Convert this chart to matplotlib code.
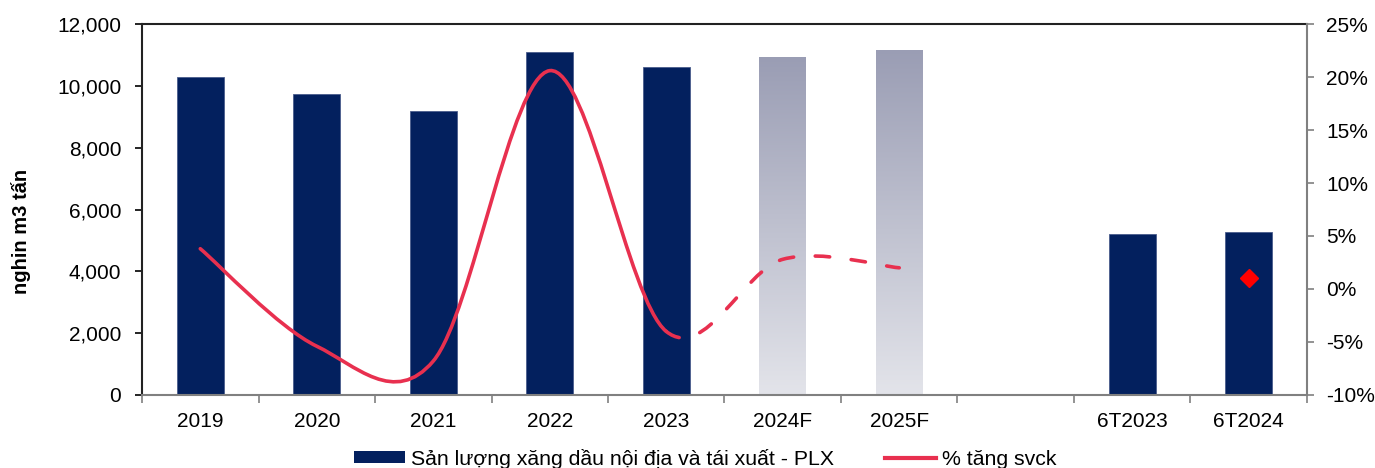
import numpy as np
import matplotlib
matplotlib.use('Agg')
import matplotlib.pyplot as plt
from matplotlib.path import Path
from matplotlib.patches import PathPatch, Patch
from matplotlib.lines import Line2D
from matplotlib.colors import LinearSegmentedColormap
from matplotlib.ticker import FuncFormatter, FixedLocator

plt.rcParams['font.family'] = ['Liberation Sans', 'DejaVu Sans']

# san luong (nghin m3 tan) va tang truong (%)
categories = ['2019', '2020', '2021', '2022', '2023', '2024F', '2025F', '', '6T2023', '6T2024']
volume = [10300, 9740, 9190, 11080, 10610, 10930, 11160, None, 5200, 5260]
forecast = ['2024F', '2025F']
growth_cats = ['2019', '2020', '2021', '2022', '2023', '2024F', '2025F']
growth = [3.8, -5.4, -6.8, 20.6, -4.0, 2.8, 2.0]
dashed_from = '2023'
growth_h1_cat = '6T2024'
growth_h1 = 1.0

NAVY = '#03205E'
RED = '#E8304F'
BAR_W = 0.4

fig = plt.figure(figsize=(13.75, 4.68), dpi=100)
ax = fig.add_axes([0.1033, 0.156, 0.8472, 0.7927])
xpos = np.arange(len(categories))

grad_cmap = LinearSegmentedColormap.from_list('fc', ['#E3E4EA', '#9A9DB4'])
grad = np.linspace(0, 1, 256).reshape(-1, 1)

for i, (cat, v) in enumerate(zip(categories, volume)):
    if v is None:
        continue
    if cat in forecast:
        rect = ax.bar(xpos[i], v, width=BAR_W, color='none', edgecolor='none')[0]
        im = ax.imshow(grad, cmap=grad_cmap, origin='lower', aspect='auto',
                       extent=[xpos[i] - BAR_W / 2, xpos[i] + BAR_W / 2, 0, v], zorder=1)
        im.set_clip_path(rect)
    else:
        ax.bar(xpos[i], v, width=BAR_W, color=NAVY, edgecolor='#4A5C8C', linewidth=0.6, zorder=2)

ax.set_xlim(-0.5, len(categories) - 0.5)
ax.set_ylim(0, 12000)
ax.set_yticks(np.arange(0, 12001, 2000))
ax.yaxis.set_major_formatter(FuncFormatter(lambda v, p: f'{v:,.0f}'))
ax.set_xticks(xpos)
ax.set_xticklabels(categories)
ax.xaxis.set_minor_locator(FixedLocator(np.arange(-0.5, len(categories), 1.0)))
ax.tick_params(axis='x', which='major', length=0, pad=12, labelsize=15)
ax.tick_params(axis='x', which='minor', length=6, width=1.2, color='#808080')
ax.tick_params(axis='y', length=5, width=1.2, pad=10, labelsize=15)

for side, col in [('top', '#222222'), ('left', '#222222'), ('bottom', '#808080')]:
    ax.spines[side].set_color(col)
    ax.spines[side].set_linewidth(1.5)
ax.spines['right'].set_visible(False)

ax2 = ax.twinx()
ax2.set_ylim(-10, 25)
ax2.set_yticks(np.arange(-10, 26, 5))
ax2.yaxis.set_major_formatter(FuncFormatter(lambda v, p: f'{v:.0f}%'))
ax2.tick_params(axis='y', length=5, width=1.2, color='#808080', pad=9, labelsize=15)
for side in ['top', 'left', 'bottom']:
    ax2.spines[side].set_visible(False)
ax2.spines['right'].set_color('#808080')
ax2.spines['right'].set_linewidth(1.5)

# smoothed line (bezier qua cac diem, kieu Excel)
gx = [categories.index(c) for c in growth_cats]
pts = list(zip(gx, growth))
n = len(pts)
segments = []
for i in range(n - 1):
    p0 = pts[max(i - 1, 0)]
    p1 = pts[i]
    p2 = pts[i + 1]
    p3 = pts[min(i + 2, n - 1)]
    c1 = (p1[0] + (p2[0] - p0[0]) / 6, p1[1] + (p2[1] - p0[1]) / 6)
    c2 = (p2[0] - (p3[0] - p1[0]) / 6, p2[1] - (p3[1] - p1[1]) / 6)
    segments.append([p1, c1, c2, p2])

split = growth_cats.index(dashed_from)


def make_path(segs):
    verts = [segs[0][0]]
    codes = [Path.MOVETO]
    for s in segs:
        verts += s[1:]
        codes += [Path.CURVE4] * 3
    return Path(verts, codes)


ax2.add_patch(PathPatch(make_path(segments[:split]), fill=False, edgecolor=RED,
                        linewidth=2.6, capstyle='round', joinstyle='round', zorder=3))
ax2.add_patch(PathPatch(make_path(segments[split:]), fill=False, edgecolor=RED,
                        linewidth=2.6, capstyle='round', linestyle=(0, (4, 6)), zorder=3))
ax2.plot(categories.index(growth_h1_cat), growth_h1, marker='D', ms=9, color='#FF0000',
         linestyle='none', zorder=4)

fig.text(0.015, 0.505, 'nghin m3 tấn', rotation=90, ha='center', va='center',
         fontsize=14.5, fontweight='bold')

handles = [Patch(facecolor=NAVY, edgecolor='none'),
           Line2D([], [], color=RED, linewidth=3)]
labels = ['Sản lượng xăng dầu nội địa và tái xuất - PLX', '% tăng svck']
fig.legend(handles, labels, loc='center', bbox_to_anchor=(0.513, 0.02), ncol=2,
           frameon=False, fontsize=15.3, handlelength=2.4, handleheight=0.5,
           handletextpad=0.3, columnspacing=2.4)

fig.savefig('out.png', dpi=100)
